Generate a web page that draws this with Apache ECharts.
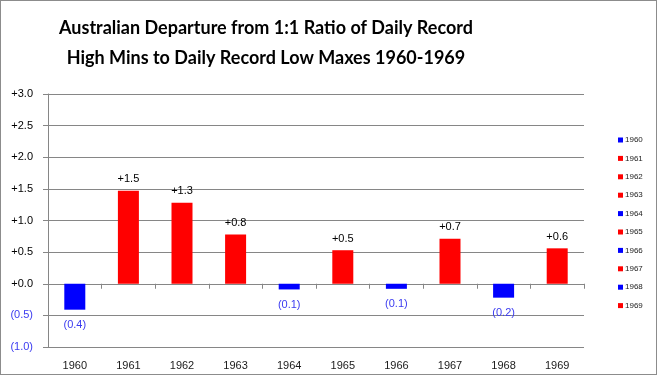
<!DOCTYPE html>
<html>
<head>
<meta charset="utf-8">
<script src="https://cdn.jsdelivr.net/npm/echarts@6/dist/echarts.min.js"></script>
<style>
html,body{margin:0;padding:0;background:#fff;}
#wrap{position:absolute;left:0;top:0;width:657px;height:375px;box-sizing:border-box;border:1px solid #8c8c8c;}
#chart{width:655px;height:373px;}
</style>
</head>
<body>
<div id="wrap"><div id="chart"></div></div>
<script>
const titleText = 'Australian Departure from 1:1 Ratio of Daily Record\nHigh Mins to Daily Record Low Maxes 1960-1969';
const years = ['1960','1961','1962','1963','1964','1965','1966','1967','1968','1969'];
const values = [-0.41, 1.47, 1.28, 0.78, -0.09, 0.53, -0.08, 0.71, -0.22, 0.56];
const yMin = -1.0, yMax = 3.0, yStep = 0.5;

const POS = '#ff0000', NEG = '#0000ff';
const NEG_TEXT = '#3b3bf0';
function fmt(v) {
  return v >= 0 ? '+' + Math.abs(v).toFixed(1) : '(' + Math.abs(v).toFixed(1) + ')';
}

const series = years.map((y, i) => ({
  name: y,
  type: 'bar',
  xAxisIndex: 0,
  barWidth: 21,
  barGap: '-100%',
  itemStyle: { color: values[i] >= 0 ? POS : NEG },
  label: {
    show: true,
    position: 'outside',
    distance: values[i] >= 0 ? 6 : 10,
    fontFamily: 'Liberation Sans',
    fontSize: 11,
    color: values[i] >= 0 ? '#000' : NEG_TEXT,
    formatter: p => fmt(p.value)
  },
  emphasis: { disabled: true },
  data: values.map((v, j) => j === i ? v : '-')
}));

const chart = echarts.init(document.getElementById('chart'), null, { renderer: 'canvas' });
chart.setOption({
  animation: false,
  backgroundColor: '#fff',
  title: {
    text: titleText,
    left: 260,
    top: 7,
    textAlign: 'center',
    textStyle: {
      fontFamily: 'Lato',
      fontWeight: 'bold',
      fontSize: 18,
      lineHeight: 30,
      color: '#000'
    }
  },
  legend: {
    orient: 'vertical',
    left: 612,
    top: 129,
    itemWidth: 5,
    itemHeight: 5,
    itemGap: 8.4,
    icon: 'rect',
    selectedMode: false,
    textStyle: { fontFamily: 'Liberation Sans', fontSize: 8, lineHeight: 10, color: '#222', padding: [0,0,0,-3] },
    data: years
  },
  grid: { left: 47, right: 72, top: 93, bottom: 27, containLabel: false },
  xAxis: [
    {
      type: 'category',
      data: years,
      position: 'bottom',
      axisLine: { show: true, onZero: true, lineStyle: { color: '#868686', width: 1 } },
      axisTick: { show: true, length: 5, lineStyle: { color: '#868686' } },
      axisLabel: { show: false },
      splitLine: { show: false }
    },
    {
      type: 'category',
      data: years,
      position: 'bottom',
      axisLine: { show: false, onZero: false },
      axisTick: { show: false },
      axisLabel: { show: true, margin: 13, fontFamily: 'Liberation Sans', fontSize: 11, color: '#1a1a1a' },
      splitLine: { show: false }
    }
  ],
  yAxis: {
    type: 'value',
    min: yMin,
    max: yMax,
    interval: yStep,
    axisLine: { show: true, lineStyle: { color: '#868686', width: 1 } },
    axisTick: { show: true, length: 5, lineStyle: { color: '#868686' } },
    axisLabel: {
      margin: 15,
      fontFamily: 'Liberation Sans',
      fontSize: 11,
      formatter: v => fmt(v),
      color: v => (Number(v) < 0 ? NEG_TEXT : '#000')
    },
    splitLine: { show: true, lineStyle: { color: '#868686', width: 1 } }
  },
  series: series
});
</script>
</body>
</html>
